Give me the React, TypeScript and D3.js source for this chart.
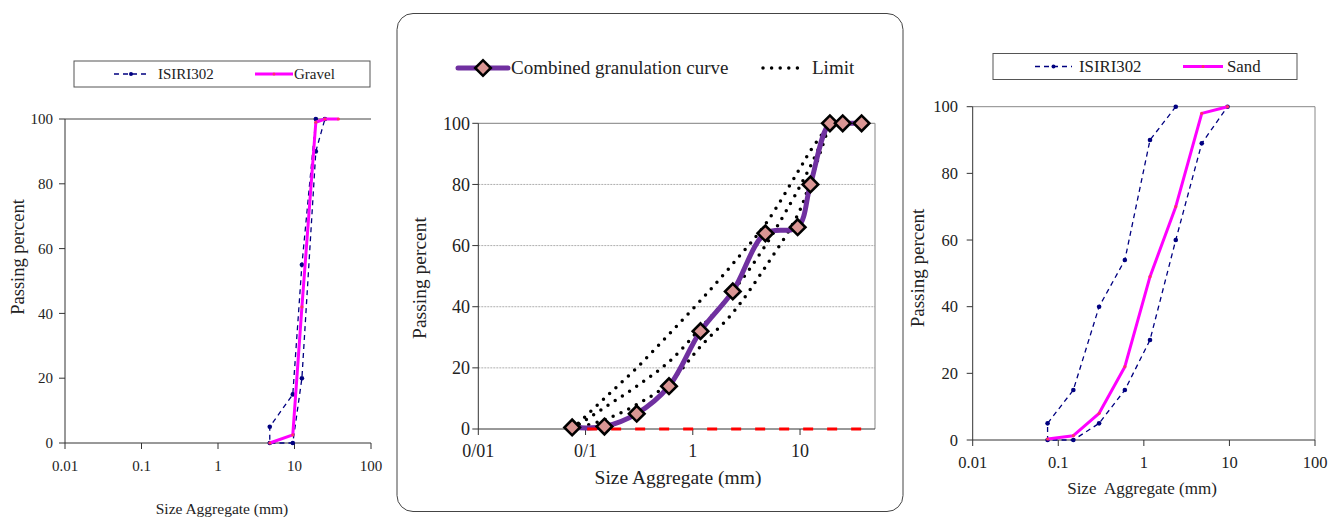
import React from "react";
import * as d3 from "d3";

// ---------- data ----------
// Left chart (Gravel)
const gravelSize = [4.75, 9.5, 12.5, 19, 25, 37.5];
const gravelPass = [0, 2.5, 42, 99, 100, 100];
const isiriGravelSize = [19, 12.5, 9.5, 4.75, 4.75, 9.5, 12.5, 19, 25];
const isiriGravelPass = [100, 55, 15, 5, 0, 0, 20, 90, 100];

// Right chart (Sand)
const sandSize = [0.075, 0.15, 0.3, 0.6, 1.18, 2.36, 4.75, 9.5];
const sandPass = [0.3, 1.3, 8, 22, 49, 70, 98, 100];
const isiriSandSize = [2.36, 1.18, 0.6, 0.3, 0.15, 0.075, 0.075, 0.15, 0.3, 0.6, 1.18, 2.36, 4.75, 9.5];
const isiriSandPass = [100, 90, 54, 40, 15, 5, 0, 0, 5, 15, 30, 60, 89, 100];

// Middle chart (Combined)
const combSize = [0.075, 0.15, 0.3, 0.6, 1.18, 2.36, 4.75, 9.5, 12.5, 19, 25, 37.5];
const combPass = [0.5, 0.8, 5, 14, 32, 45, 64, 66, 80, 100, 100, 100];
const zeroPass = [0, 0, 0, 0, 0, 0, 0, 0, 0, 0, 0, 0];
const limitSize = [0.075, 0.15, 0.3, 0.6, 1.18, 2.36, 4.75, 9.5, 12.5, 19];
const limitUpper = [0, 10, 20, 31, 42, 54, 67, 84, 91, 100];
const limitMiddle = [0, 7, 14, 22, 33, 45, 60, 78, 86, 100];
const limitLower = [0, 3, 8, 15, 27, 38, 53, 70, 81, 100];

const sideTicks = [0.01, 0.1, 1, 10, 100];
const sideTickLabels = ["0.01", "0.1", "1", "10", "100"];
const midTicks = [0.01, 0.1, 1, 10];
const midTickLabels = ["0/01", "0/1", "1", "10"];
const yTicks = [0, 20, 40, 60, 80, 100];
const midGrid = [20, 40, 60, 80];

const FONT = "'Liberation Serif', 'Times New Roman', serif";
const NAVY = "#000080";
const MAGENTA = "#FF00FF";
const PURPLE = "#7030A0";
const PINK = "#DA9694";

type Pt = [number, number];
const pairs = (a: number[], b: number[]): Pt[] => a.map((v, i) => [v, b[i]] as Pt);

interface SideProps {
  x0: number; x1: number; y0: number; y1: number;
  stdSize: number[]; stdPass: number[];
  matSize: number[]; matPass: number[];
  matName: string;
  tickFont: number; titleFont: number; yTitleFont: number;
  xLabelY: number; yLabelX: number;
  xTitle: string; xTitleX: number; xTitleY: number;
  yTitleX: number; yTitleY: number;
  legend: { x0: number; x1: number; y0: number; y1: number; s1a: number; s1b: number; t1: number; s2a: number; s2b: number; t2: number; font: number; baseline: number };
  frameColor: string; rightBorder: boolean;
}

function SideChart(p: SideProps) {
  const x = d3.scaleLog().domain([0.01, 100]).range([p.x0, p.x1]);
  const y = d3.scaleLinear().domain([0, 100]).range([p.y1, p.y0]);
  const line = d3.line<Pt>().x(d => x(d[0])).y(d => y(d[1]));
  const std = pairs(p.stdSize, p.stdPass);
  const mat = pairs(p.matSize, p.matPass);
  const L = p.legend;
  const ly = (L.y0 + L.y1) / 2;
  return (
    <g fontFamily={FONT} fill="#222">
      {/* legend */}
      <rect x={L.x0} y={L.y0} width={L.x1 - L.x0} height={L.y1 - L.y0} fill="white" stroke="#555" strokeWidth={1} />
      <line x1={L.s1a} x2={L.s1b} y1={ly} y2={ly} stroke={NAVY} strokeWidth={1.3} strokeDasharray="5 4" />
      <circle cx={(L.s1a + L.s1b) / 2} cy={ly} r={2} fill={NAVY} />
      <text x={L.t1} y={L.baseline} fontSize={L.font}>ISIRI302</text>
      <line x1={L.s2a} x2={L.s2b} y1={ly} y2={ly} stroke={MAGENTA} strokeWidth={3} />
      <circle cx={(L.s2a + L.s2b) / 2} cy={ly} r={1.5} fill="#FF3366" />
      <text x={L.t2} y={L.baseline} fontSize={L.font}>{p.matName}</text>

      {/* frame */}
      <line x1={p.x0} x2={p.x1} y1={p.y0} y2={p.y0} stroke={p.frameColor} strokeWidth={1} />
      {p.rightBorder && <line x1={p.x1} x2={p.x1} y1={p.y0} y2={p.y1} stroke={p.frameColor} strokeWidth={1} />}
      <line x1={p.x0} x2={p.x1} y1={p.y1} y2={p.y1} stroke="#333" strokeWidth={1} />
      <line x1={p.x0} x2={p.x0} y1={p.y0} y2={p.y1} stroke="#333" strokeWidth={1} />
      {yTicks.map(t => (
        <g key={"y" + t}>
          <line x1={p.x0 - 6} x2={p.x0} y1={y(t)} y2={y(t)} stroke="#333" />
          <text x={p.yLabelX} y={y(t)} dy="0.35em" textAnchor="end" fontSize={p.tickFont}>{t}</text>
        </g>
      ))}
      {sideTicks.map((t, i) => (
        <g key={"x" + t}>
          <line x1={x(t)} x2={x(t)} y1={p.y1} y2={p.y1 + 6} stroke="#333" />
          <text x={x(t)} y={p.xLabelY} textAnchor="middle" fontSize={p.tickFont}>{sideTickLabels[i]}</text>
        </g>
      ))}
      <text x={p.xTitleX} y={p.xTitleY} textAnchor="middle" fontSize={p.titleFont} style={{ whiteSpace: "pre" }}>{p.xTitle}</text>
      <text transform={`translate(${p.yTitleX},${p.yTitleY}) rotate(-90)`} textAnchor="middle" fontSize={p.yTitleFont}>Passing percent</text>

      {/* series */}
      <path d={line(std) ?? ""} fill="none" stroke={NAVY} strokeWidth={1.3} strokeDasharray="5 4" />
      {std.map((d, i) => <circle key={"s" + i} cx={x(d[0])} cy={y(d[1])} r={2.3} fill={NAVY} />)}
      <path d={line(mat) ?? ""} fill="none" stroke={MAGENTA} strokeWidth={3} strokeLinejoin="round" />
      {mat.map((d, i) => <circle key={"m" + i} cx={x(d[0])} cy={y(d[1])} r={1.6} fill="#FF3366" />)}
    </g>
  );
}

function MiddleChart() {
  const x0 = 478.3, x1 = 875, y0 = 123.3, y1 = 429;
  const x = d3.scaleLog().domain([0.01, 50]).range([x0, x1]);
  const y = d3.scaleLinear().domain([0, 100]).range([y1, y0]);
  const smooth = d3.line<Pt>().x(d => x(d[0])).y(d => y(d[1])).curve(d3.curveCatmullRom.alpha(0.5));
  const straight = d3.line<Pt>().x(d => x(d[0])).y(d => y(d[1]));
  const comb = pairs(combSize, combPass);
  const zero = pairs(combSize, zeroPass);
  const limits = [limitUpper, limitMiddle, limitLower].map(l => pairs(limitSize, l));
  const diamond = (cx: number, cy: number, k: string) => (
    <rect key={k} x={cx - 5.5} y={cy - 5.5} width={11} height={11} transform={`rotate(45 ${cx} ${cy})`} fill={PINK} stroke="black" strokeWidth={2.6} />
  );
  return (
    <g fontFamily={FONT} fill="#222">
      <rect x={397} y={13.5} width={506} height={498} rx={16} ry={16} fill="white" stroke="#444" strokeWidth={1} />
      {/* legend */}
      <line x1={458} x2={508} y1={68} y2={68} stroke={PURPLE} strokeWidth={5} strokeLinecap="round" />
      {diamond(483, 68, "leg")}
      <text x={511} y={74} fontSize={19}>Combined granulation curve</text>
      <line x1={763} x2={800} y1={68} y2={68} stroke="black" strokeWidth={3.5} strokeDasharray="0 8.6" strokeLinecap="round" />
      <text x={812} y={74} fontSize={19}>Limit</text>

      {/* grid & frame */}
      {midGrid.map(g => (
        <line key={"g" + g} x1={x0} x2={x1} y1={y(g)} y2={y(g)} stroke="#9a9a9a" strokeWidth={0.8} strokeDasharray="2 1" />
      ))}
      <line x1={x0} x2={x1} y1={y0} y2={y0} stroke="#999" strokeWidth={1.2} />
      <line x1={x1} x2={x1} y1={y0} y2={y1} stroke="#999" strokeWidth={1.2} />
      <line x1={x0} x2={x1} y1={y1} y2={y1} stroke="#333" strokeWidth={1} />
      <line x1={x0} x2={x0} y1={y0} y2={y1} stroke="#333" strokeWidth={1} />
      {yTicks.map(t => (
        <g key={"y" + t}>
          <line x1={x0 - 6} x2={x0} y1={y(t)} y2={y(t)} stroke="#333" />
          <text x={470} y={y(t)} dy="0.35em" textAnchor="end" fontSize={18}>{t}</text>
        </g>
      ))}
      {midTicks.map((t, i) => (
        <g key={"x" + t}>
          <line x1={x(t)} x2={x(t)} y1={y1} y2={y1 + 6} stroke="#333" />
          <text x={x(t)} y={457} textAnchor="middle" fontSize={18}>{midTickLabels[i]}</text>
        </g>
      ))}
      <text x={678} y={484} textAnchor="middle" fontSize={19.5}>Size Aggregate (mm)</text>
      <text transform="translate(426,278) rotate(-90)" textAnchor="middle" fontSize={19.5}>Passing percent</text>

      {/* series */}
      {limits.map((l, i) => (
        <path key={"l" + i} d={smooth(l) ?? ""} fill="none" stroke="black" strokeWidth={3.5} strokeDasharray="0 8.6" strokeLinecap="round" />
      ))}
      <path d={smooth(comb) ?? ""} fill="none" stroke={PURPLE} strokeWidth={5} strokeLinejoin="round" />
      <path d={straight(zero) ?? ""} fill="none" stroke="#FF0000" strokeWidth={3} strokeDasharray="10 14" strokeDashoffset={-15} />
      {comb.map((d, i) => diamond(x(d[0]), y(d[1]), "c" + i))}
    </g>
  );
}

export default function App() {
  return (
    <svg width={1328} height={518} style={{ position: "absolute", left: 0, top: 0, background: "white" }}>
      <rect x={0} y={0} width={1328} height={518} fill="white" />
      <SideChart
        x0={65} x1={371} y0={119} y1={443}
        stdSize={isiriGravelSize} stdPass={isiriGravelPass}
        matSize={gravelSize} matPass={gravelPass} matName="Gravel"
        tickFont={15} titleFont={15.5} yTitleFont={18.5}
        xLabelY={471} yLabelX={53}
        xTitle="Size Aggregate (mm)" xTitleX={222} xTitleY={514}
        yTitleX={24} yTitleY={257}
        legend={{ x0: 74, x1: 370, y0: 61, y1: 87, s1a: 114, s1b: 148, t1: 158, s2a: 255, s2b: 293, t2: 294, font: 15, baseline: 79 }}
        frameColor="#444" rightBorder={false}
      />
      <MiddleChart />
      <SideChart
        x0={972.7} x1={1315} y0={106.7} y1={440}
        stdSize={isiriSandSize} stdPass={isiriSandPass}
        matSize={sandSize} matPass={sandPass} matName="Sand"
        tickFont={16.5} titleFont={17} yTitleFont={19}
        xLabelY={468} yLabelX={958}
        xTitle={"Size  Aggregate (mm)"} xTitleX={1142} xTitleY={494}
        yTitleX={924} yTitleY={268}
        legend={{ x0: 993, x1: 1297, y0: 53.5, y1: 79.5, s1a: 1035, s1b: 1072, t1: 1079, s2a: 1183, s2b: 1223, t2: 1227, font: 16.8, baseline: 72 }}
        frameColor="#888" rightBorder={true}
      />
    </svg>
  );
}
